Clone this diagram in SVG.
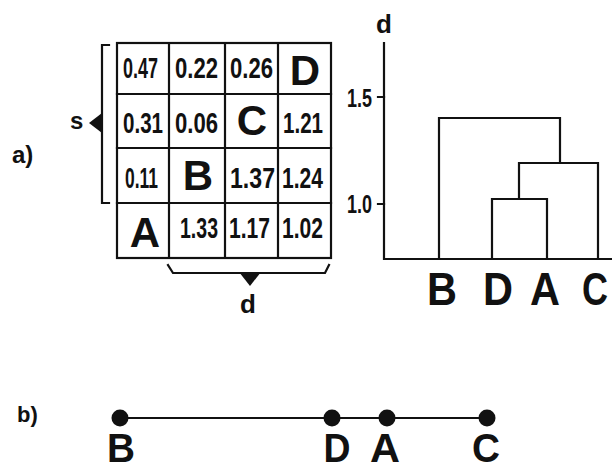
<svg xmlns="http://www.w3.org/2000/svg" width="612" height="468" viewBox="0 0 612 468">
<style>
text{font-family:"Liberation Sans",Arial,sans-serif;font-weight:bold;fill:#111}
.num{font-size:29px}
.big{font-size:42px;text-anchor:middle}
.lab{font-size:46px;text-anchor:middle}
.lab2{font-size:40px;text-anchor:middle}
.small{font-size:25px}
.ln{fill:none;stroke:#111;stroke-width:2.2;stroke-linecap:square}
</style>
<rect width="612" height="468" fill="#fff"/>
<g id="label-a"><text x="12" y="163" font-size="24">a)</text></g>
<g id="matrix">
<rect x="117" y="43" width="214" height="215" class="ln" stroke-width="2.6"/>
<path class="ln" d="M169,43V258M225,43V258M278,43V258M117,94H331M117,148H331M117,203H331"/>
<text class="num" x="123" y="78" textLength="35" lengthAdjust="spacingAndGlyphs">0.47</text>
<text class="num" x="175" y="78" textLength="43" lengthAdjust="spacingAndGlyphs">0.22</text>
<text class="num" x="230" y="78" textLength="43" lengthAdjust="spacingAndGlyphs">0.26</text>
<text class="big" x="305" y="85">D</text>
<text class="num" x="123" y="133" textLength="40" lengthAdjust="spacingAndGlyphs">0.31</text>
<text class="num" x="175" y="133" textLength="43" lengthAdjust="spacingAndGlyphs">0.06</text>
<text class="big" x="252" y="135">C</text>
<text class="num" x="283" y="133" textLength="40" lengthAdjust="spacingAndGlyphs">1.21</text>
<text class="num" x="125" y="188" textLength="33" lengthAdjust="spacingAndGlyphs">0.11</text>
<text class="big" x="198" y="190">B</text>
<text class="num" x="230" y="188" textLength="45" lengthAdjust="spacingAndGlyphs">1.37</text>
<text class="num" x="282" y="188" textLength="41" lengthAdjust="spacingAndGlyphs">1.24</text>
<text class="big" x="145" y="247">A</text>
<text class="num" x="180" y="238" textLength="38" lengthAdjust="spacingAndGlyphs">1.33</text>
<text class="num" x="229" y="238" textLength="41" lengthAdjust="spacingAndGlyphs">1.17</text>
<text class="num" x="282" y="238" textLength="41" lengthAdjust="spacingAndGlyphs">1.02</text>
</g>
<g id="brace-s">
<path class="ln" stroke-linecap="butt" d="M109,45H102V203H109"/>
<polygon points="89,123 102,113 102,133" fill="#111"/>
<text x="70" y="129" font-size="24">s</text>
</g>
<g id="brace-d">
<path class="ln" stroke-linecap="butt" d="M168,265L173,273H325L329,265"/>
<polygon points="239,272 261,272 250,286" fill="#111"/>
<text x="248" y="313" font-size="26" text-anchor="middle">d</text>
</g>
<g id="dendrogram">
<path class="ln" d="M384,43V259H612"/>
<path class="ln" d="M378,97H384M378,204H384"/>
<text x="384" y="33" font-size="26" text-anchor="middle">d</text>
<text class="small" x="347" y="107" textLength="25" lengthAdjust="spacingAndGlyphs">1.5</text>
<text class="small" x="347" y="213" textLength="25" lengthAdjust="spacingAndGlyphs">1.0</text>
<path class="ln" d="M439,259V118H560V163M519,199V163H598V259M492,259V199H547V259"/>
<text class="lab" x="442" y="305" textLength="30" lengthAdjust="spacingAndGlyphs">B</text>
<text class="lab" x="498" y="305" textLength="30" lengthAdjust="spacingAndGlyphs">D</text>
<text class="lab" x="545" y="305" textLength="30" lengthAdjust="spacingAndGlyphs">A</text>
<text class="lab" x="595" y="305" textLength="26" lengthAdjust="spacingAndGlyphs">C</text>
</g>
<g id="label-b"><text x="17" y="422" font-size="22">b)</text></g>
<g id="connectors">
<path class="ln" d="M120,418H487"/>
</g>
<g id="node-B"><circle cx="120" cy="418" r="8.5" fill="#111"/><text class="lab2" x="121" y="462" textLength="28" lengthAdjust="spacingAndGlyphs">B</text></g>
<g id="node-D"><circle cx="332" cy="418" r="8.5" fill="#111"/><text class="lab2" x="337" y="462" textLength="27" lengthAdjust="spacingAndGlyphs">D</text></g>
<g id="node-A"><circle cx="387" cy="418" r="8.5" fill="#111"/><text class="lab2" x="385" y="462" textLength="30" lengthAdjust="spacingAndGlyphs">A</text></g>
<g id="node-C"><circle cx="487" cy="418" r="8.5" fill="#111"/><text class="lab2" x="486" y="462" textLength="28" lengthAdjust="spacingAndGlyphs">C</text></g>
</svg>
